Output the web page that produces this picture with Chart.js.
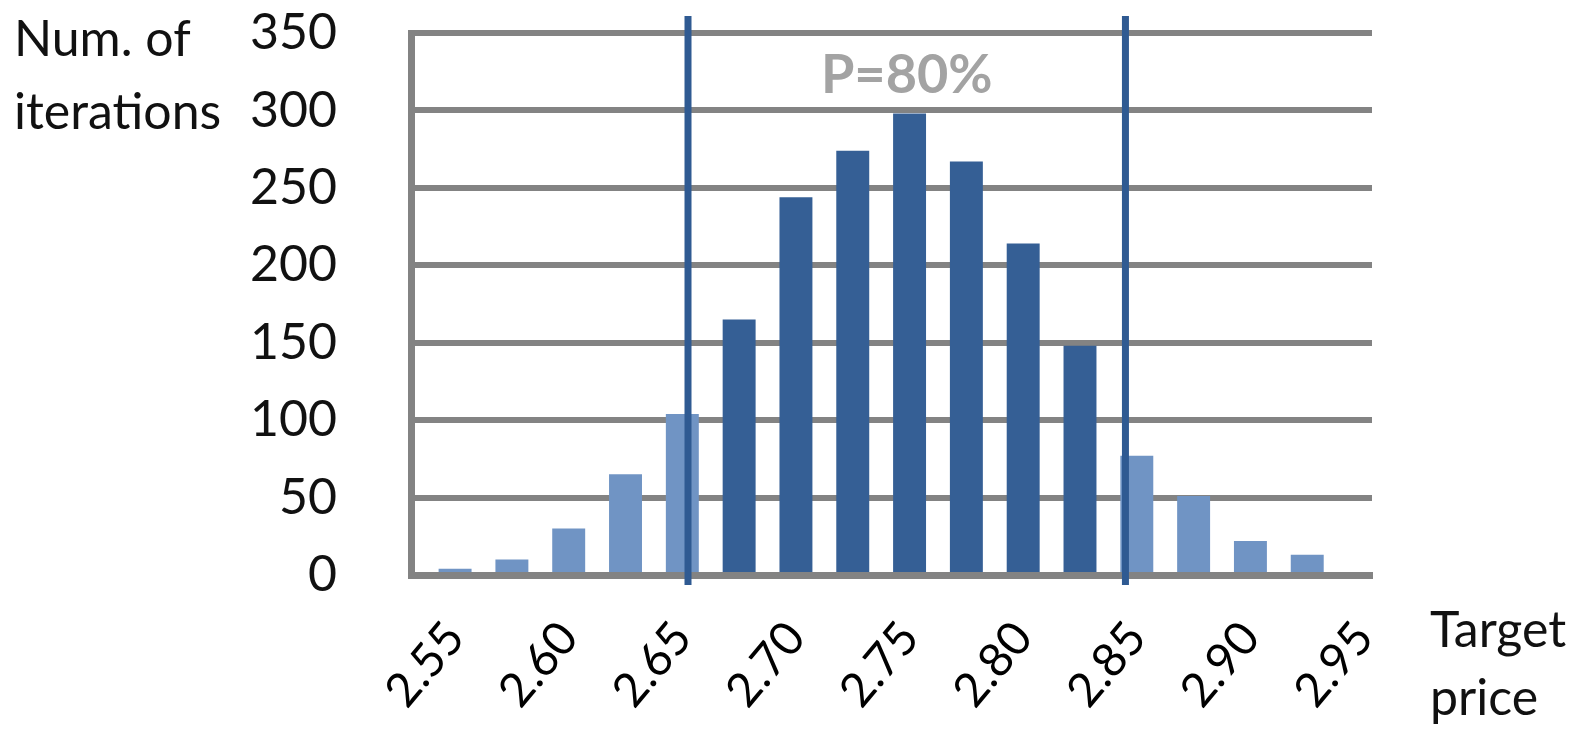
<!DOCTYPE html>
<html>
<head>
<meta charset="utf-8">
<script src="https://cdn.jsdelivr.net/npm/chart.js@4.4.1/dist/chart.umd.min.js"></script>
<style>
  html, body { margin: 0; padding: 0; background: #fff; }
  #wrap { width: 1577px; height: 732px; }
</style>
</head>
<body>
<div id="wrap"><canvas id="histChart" width="1577" height="732"></canvas></div>
<script>
// DATA
const prices = [2.55, 2.575, 2.6, 2.625, 2.65, 2.675, 2.7, 2.725, 2.75, 2.775, 2.8, 2.825, 2.85, 2.875, 2.9, 2.925, 2.95];
const iterations = [4, 10, 30, 65, 104, 165, 244, 274, 298, 267, 214, 148, 77, 51, 22, 13, 0];
const xTickLabels = ["2.55", "2.60", "2.65", "2.70", "2.75", "2.80", "2.85", "2.90", "2.95"];
const yTicks = [0, 50, 100, 150, 200, 250, 300, 350];
const bounds = [2.6525, 2.845]; // P=80% interval
const bandLabel = "P=80%";
const yTitle = ["Num. of", "iterations"];
const xTitle = ["Target", "price"];

// COLORS
const darkBlue = "#355f95";
const lightBlue = "#7094c4";
const gridGray = "#838383";
const FONT = "Lato, 'Open Sans', sans-serif";

const barColors = prices.map((p) => (p > bounds[0] && p < bounds[1] ? darkBlue : lightBlue));

// lines + texts
const overlay = {
  id: "overlay",
  afterDatasetsDraw(chart) {
    const { ctx, scales } = chart;
    ctx.save();
    ctx.strokeStyle = "#2f5a92";
    ctx.lineWidth = 7;
    bounds.forEach((b) => {
      const x = scales.x.getPixelForValue(b);
      ctx.beginPath();
      ctx.moveTo(x, 16);
      ctx.lineTo(x, 585);
      ctx.stroke();
    });
    // P=80%
    const mid = (scales.x.getPixelForValue(bounds[0]) + scales.x.getPixelForValue(bounds[1])) / 2;
    ctx.fillStyle = "#a3a3a3";
    ctx.font = "bold 54px " + FONT;
    ctx.textAlign = "center";
    ctx.textBaseline = "alphabetic";
    ctx.fillText(bandLabel, mid, 93);
    ctx.restore();
  },
  afterDraw(chart) {
    const { ctx } = chart;
    ctx.save();
    ctx.fillStyle = "#111";
    ctx.font = "50px " + FONT;
    ctx.textAlign = "left";
    ctx.textBaseline = "alphabetic";
    ctx.fillText(yTitle[0], 14, 56);
    ctx.fillText(yTitle[1], 14, 129);
    ctx.fillText(xTitle[0], 1430, 647);
    ctx.fillText(xTitle[1], 1430, 715);
    ctx.restore();
  },
};

const ctx = document.getElementById("histChart").getContext("2d");
const histChart = new Chart(ctx, {
  type: "bar",
  data: {
    datasets: [
      {
        data: prices.map((p, i) => ({ x: p, y: iterations[i] })),
        backgroundColor: barColors,
        barPercentage: 0.58,
        categoryPercentage: 1,
      },
    ],
  },
  options: {
    responsive: false,
    devicePixelRatio: 1,
    animation: false,
    layout: { padding: { top: 33, right: 205, left: 0, bottom: 0 } },
    plugins: { legend: { display: false }, tooltip: { enabled: false } },
    scales: {
      x: {
        type: "linear",
        offset: false,
        min: 2.5306,
        max: 2.9535,
        afterBuildTicks: (axis) => {
          axis.ticks = xTickLabels.map((t) => ({ value: parseFloat(t) }));
        },
        afterFit: (scale) => {
          scale.height = 157;
          scale.paddingLeft = 0;
          scale.paddingRight = 0;
        },
        grid: { display: false },
        border: { color: gridGray, width: 7 },
        ticks: {
          autoSkip: false,
          minRotation: 50,
          maxRotation: 50,
          padding: 28,
          color: "#000",
          font: { family: FONT, size: 47 },
          callback: (v) => Number(v).toFixed(2),
        },
      },
      y: {
        min: 0,
        max: 350,
        afterBuildTicks: (axis) => {
          axis.ticks = yTicks.map((v) => ({ value: v }));
        },
        afterFit: (scale) => {
          scale.width = 411;
          scale.paddingTop = 0;
          scale.paddingBottom = 0;
        },
        grid: { color: gridGray, lineWidth: 6, drawTicks: false },
        border: { color: gridGray, width: 7 },
        ticks: {
          padding: 74,
          color: "#111",
          font: { family: FONT, size: 50 },
        },
      },
    },
  },
  plugins: [overlay],
});
</script>
</body>
</html>
